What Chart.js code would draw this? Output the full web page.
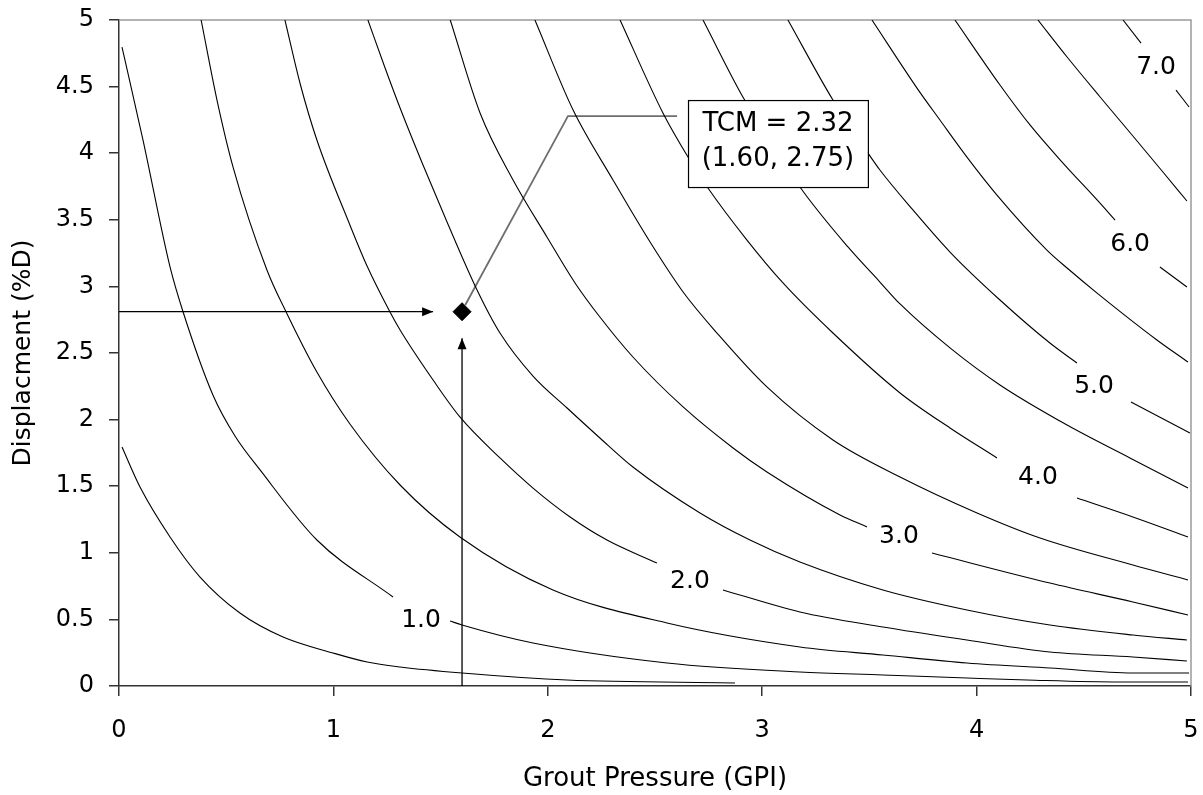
<!DOCTYPE html>
<html>
<head>
<meta charset="utf-8">
<script src="https://cdn.jsdelivr.net/npm/chart.js@4.4.1/dist/chart.umd.min.js"></script>
<style>
  html, body { margin: 0; padding: 0; background: #fff; }
  canvas { display: block; }
</style>
</head>
<body>
<canvas id="contour-chart" width="1203" height="795"></canvas>
<script>
// axis ticks
var gpiTicks = [0, 1, 2, 3, 4, 5];
var gpiTickLabels = ["0", "1", "2", "3", "4", "5"];
var dispTicks = [0, 0.5, 1, 1.5, 2, 2.5, 3, 3.5, 4, 4.5, 5];
var dispTickLabels = ["0", "0.5", "1", "1.5", "2", "2.5", "3", "3.5", "4", "4.5", "5"];

// contour lines [GPI, %D], split where the level label sits
var c05 = [[0.014,1.794],[0.098,1.494],[0.238,1.119],[0.378,0.818],[0.564,0.548],[0.765,0.368],[0.998,0.248],[1.157,0.180],[1.311,0.143],[1.600,0.098],[2.090,0.045],[2.873,0.023]];
var c10a = [[0.014,4.797],[0.112,4.099],[0.238,3.146],[0.299,2.808],[0.438,2.185],[0.541,1.877],[0.658,1.622],[0.923,1.096],[1.278,0.668]];
var c10b = [[1.544,0.488],[1.600,0.458],[1.931,0.323],[2.556,0.173],[3.176,0.105],[3.563,0.083],[3.955,0.060],[4.235,0.045],[4.669,0.030],[4.986,0.030]];
var c15 = [[0.383,5.0],[0.457,4.399],[0.532,3.896],[0.690,3.123],[0.784,2.793],[0.923,2.357],[1.077,1.967],[1.311,1.509],[1.590,1.119],[2.024,0.721],[2.556,0.473],[3.176,0.293],[3.563,0.233],[3.955,0.173],[4.342,0.135],[4.729,0.098],[4.991,0.098]];
var c20a = [[0.774,5.0],[0.844,4.527],[0.923,4.099],[1.077,3.461],[1.157,3.153],[1.264,2.808],[1.311,2.673],[1.465,2.297],[1.590,2.020],[1.777,1.712],[1.931,1.486],[2.104,1.269],[2.276,1.096],[2.509,0.923]];
var c20b = [[2.817,0.721],[3.176,0.556],[3.563,0.443],[3.955,0.345],[4.342,0.255],[4.729,0.218],[4.981,0.188]];
var c25 = [[1.161,5.0],[1.236,4.662],[1.311,4.339],[1.418,3.911],[1.530,3.483],[1.670,2.973],[1.777,2.650],[1.931,2.327],[2.090,2.087],[2.243,1.862],[2.397,1.644],[2.710,1.299],[2.943,1.096],[3.176,0.931],[3.563,0.721],[3.955,0.571],[4.342,0.458],[4.729,0.383],[4.981,0.345]];
var c30a = [[1.545,5.0],[1.684,4.302],[1.838,3.799],[1.996,3.371],[2.127,3.026],[2.243,2.770],[2.397,2.470],[2.631,2.095],[2.864,1.787],[3.022,1.607],[3.363,1.284],[3.489,1.194]];
var c30b = [[3.792,0.998],[4.342,0.773],[4.729,0.631],[4.986,0.533]];
var c35 = [[1.940,5.0],[2.118,4.324],[2.304,3.799],[2.477,3.333],[2.631,2.958],[2.789,2.650],[3.022,2.245],[3.330,1.847],[3.643,1.569],[4.002,1.299],[4.296,1.111],[4.729,0.908],[4.986,0.796]];
var c40a = [[2.337,5.0],[2.537,4.302],[2.654,3.971],[2.747,3.739],[2.929,3.348],[3.097,3.026],[3.330,2.650],[3.643,2.200],[3.876,1.937],[4.095,1.712]];
var c40b = [[4.468,1.411],[4.729,1.269],[4.986,1.119]];
var c45 = [[2.724,5.0],[2.910,4.422],[3.176,3.746],[3.400,3.296],[3.549,3.033],[3.643,2.868],[3.876,2.538],[4.109,2.260],[4.422,1.959],[4.715,1.712],[4.986,1.486]];
var c50a = [[3.120,5.0],[3.330,4.399],[3.493,4.002],[3.549,3.874],[3.703,3.574],[3.876,3.258],[4.109,2.898],[4.342,2.575],[4.468,2.425]];
var c50b = [[4.720,2.132],[4.995,1.899]];
var c55 = [[3.512,5.0],[3.722,4.489],[3.829,4.249],[3.955,3.971],[4.095,3.686],[4.328,3.273],[4.422,3.138],[4.562,2.950],[4.841,2.598],[4.986,2.432]];
var c60a = [[3.899,5.0],[4.109,4.512],[4.249,4.212],[4.403,3.926],[4.562,3.649],[4.646,3.498]];
var c60b = [[4.855,3.146],[4.981,2.995]];
var c65 = [[4.286,5.0],[4.422,4.722],[4.576,4.422],[4.729,4.129],[4.869,3.859],[4.981,3.641]];
var c70a = [[4.683,5.0],[4.767,4.827]];
var c70b = [[4.930,4.474],[4.991,4.347]];

var contourParts = [c05, c10a, c10b, c15, c20a, c20b, c25, c30a, c30b, c35, c40a, c40b, c45, c50a, c50b, c55, c60a, c60b, c65, c70a, c70b];

// contour level labels
var levelText = ["1.0", "2.0", "3.0", "4.0", "5.0", "6.0", "7.0"];
var levelX = [1.409, 2.663, 3.638, 4.286, 4.548, 4.716, 4.837];
var levelY = [0.495, 0.781, 1.119, 1.562, 2.252, 3.311, 4.640];

// design point and callout
var tcmValue = "2.32";
var tcmCoords = ["1.60", "2.75"];
var tcmMarker = [1.60, 2.81];
var arrowFromLeft = [[0, 2.81], [1.465, 2.81]];
var arrowFromBottom = [[1.60, 0], [1.60, 2.61]];
var leaderLine = [[1.615, 2.86], [2.094, 4.279], [2.603, 4.279]];

function toXY(arr) {
  return arr.map(function (p) { return { x: p[0], y: p[1] }; });
}

var datasets = contourParts.map(function (part) {
  return {
    data: toXY(part),
    showLine: true,
    borderColor: "#000",
    borderWidth: 1.1,
    pointRadius: 0,
    cubicInterpolationMode: "monotone",
    fill: false
  };
});

datasets.push({ data: toXY(arrowFromLeft), showLine: true, borderColor: "#000", borderWidth: 1.3, pointRadius: 0 });
datasets.push({ data: toXY(arrowFromBottom), showLine: true, borderColor: "#000", borderWidth: 1.3, pointRadius: 0 });
datasets.push({ data: toXY(leaderLine), showLine: true, borderColor: "#6e6e6e", borderWidth: 1.8, pointRadius: 0 });
datasets.push({
  data: [{ x: tcmMarker[0], y: tcmMarker[1] }],
  showLine: false,
  pointStyle: "rectRot",
  pointRadius: 9,
  backgroundColor: "#000",
  borderColor: "#000"
});

var extras = {
  id: "extras",
  beforeDatasetsDraw: function (chart) {
    var ctx = chart.ctx, a = chart.chartArea;
    ctx.save();
    ctx.strokeStyle = "#9a9a9a";
    ctx.lineWidth = 1.5;
    ctx.beginPath();
    ctx.moveTo(a.left, a.top);
    ctx.lineTo(a.right, a.top);
    ctx.lineTo(a.right, a.bottom);
    ctx.stroke();
    ctx.restore();
  },
  afterDatasetsDraw: function (chart) {
    var ctx = chart.ctx;
    var xs = chart.scales.x, ys = chart.scales.y;
    ctx.save();

    // arrow heads
    ctx.fillStyle = "#000";
    var hx = xs.getPixelForValue(arrowFromLeft[1][0]), hy = ys.getPixelForValue(arrowFromLeft[1][1]);
    ctx.beginPath();
    ctx.moveTo(hx, hy);
    ctx.lineTo(hx - 11, hy - 4.5);
    ctx.lineTo(hx - 11, hy + 4.5);
    ctx.closePath();
    ctx.fill();
    var vx = xs.getPixelForValue(arrowFromBottom[1][0]), vy = ys.getPixelForValue(arrowFromBottom[1][1]);
    ctx.beginPath();
    ctx.moveTo(vx, vy);
    ctx.lineTo(vx - 4.5, vy + 11);
    ctx.lineTo(vx + 4.5, vy + 11);
    ctx.closePath();
    ctx.fill();

    // callout box
    var bl = xs.getPixelForValue(2.654), br = xs.getPixelForValue(3.493);
    var bt = ys.getPixelForValue(4.399), bb = ys.getPixelForValue(3.746);
    ctx.fillStyle = "#fff";
    ctx.fillRect(bl, bt, br - bl, bb - bt);
    ctx.strokeStyle = "#000";
    ctx.lineWidth = 1.2;
    ctx.strokeRect(bl + 0.5, bt + 0.5, br - bl, bb - bt);
    ctx.fillStyle = "#000";
    ctx.font = "26px 'DejaVu Sans'";
    ctx.textAlign = "center";
    ctx.textBaseline = "middle";
    var cx = (bl + br) / 2, cy = (bt + bb) / 2;
    ctx.fillText("TCM = " + tcmValue, cx, cy - 19);
    ctx.fillText("(" + tcmCoords[0] + ", " + tcmCoords[1] + ")", cx, cy + 16);

    // contour level labels
    ctx.font = "25px 'DejaVu Sans'";
    for (var i = 0; i < levelText.length; i++) {
      ctx.fillText(levelText[i], xs.getPixelForValue(levelX[i]), ys.getPixelForValue(levelY[i]));
    }
    ctx.restore();
  }
};

Chart.defaults.font.family = "'DejaVu Sans', sans-serif";
Chart.defaults.color = "#000";

new Chart(document.getElementById("contour-chart"), {
  type: "scatter",
  data: { datasets: datasets },
  plugins: [extras],
  options: {
    responsive: false,
    animation: false,
    layout: { padding: { left: 0, right: 12, top: 20, bottom: 0 } },
    plugins: { legend: { display: false }, tooltip: { enabled: false } },
    scales: {
      x: {
        type: "linear",
        min: 0,
        max: 5,
        afterBuildTicks: function (s) { s.ticks = gpiTicks.map(function (v) { return { value: v }; }); },
        afterFit: function (s) {
          s.height = 109;
          s.paddingLeft = 0; s.paddingRight = 0;
        },
        ticks: {
          font: { size: 24 },
          padding: 20,
          maxRotation: 0,
          callback: function (v, i) { return gpiTickLabels[i]; }
        },
        grid: { drawOnChartArea: false, drawTicks: true, tickLength: 10, color: "#333", lineWidth: 1.5 },
        border: { display: true, color: "#333", width: 1.5 },
        title: { display: true, text: "Grout Pressure (GPI)", font: { size: 26 }, padding: { top: 0, bottom: 0 } }
      },
      y: {
        type: "linear",
        min: 0,
        max: 5,
        afterBuildTicks: function (s) { s.ticks = dispTicks.map(function (v) { return { value: v }; }); },
        afterFit: function (s) {
          s.width = 119;
          s.paddingTop = 0; s.paddingBottom = 0;
        },
        ticks: {
          font: { size: 24 },
          padding: 15,
          callback: function (v, i) { return dispTickLabels[i]; }
        },
        grid: { drawOnChartArea: false, drawTicks: true, tickLength: 10, color: "#333", lineWidth: 1.5 },
        border: { display: true, color: "#333", width: 1.5 },
        title: { display: true, text: "Displacment (%D)", font: { size: 25 }, padding: { top: 8, bottom: 0 } }
      }
    }
  }
});
</script>
</body>
</html>
